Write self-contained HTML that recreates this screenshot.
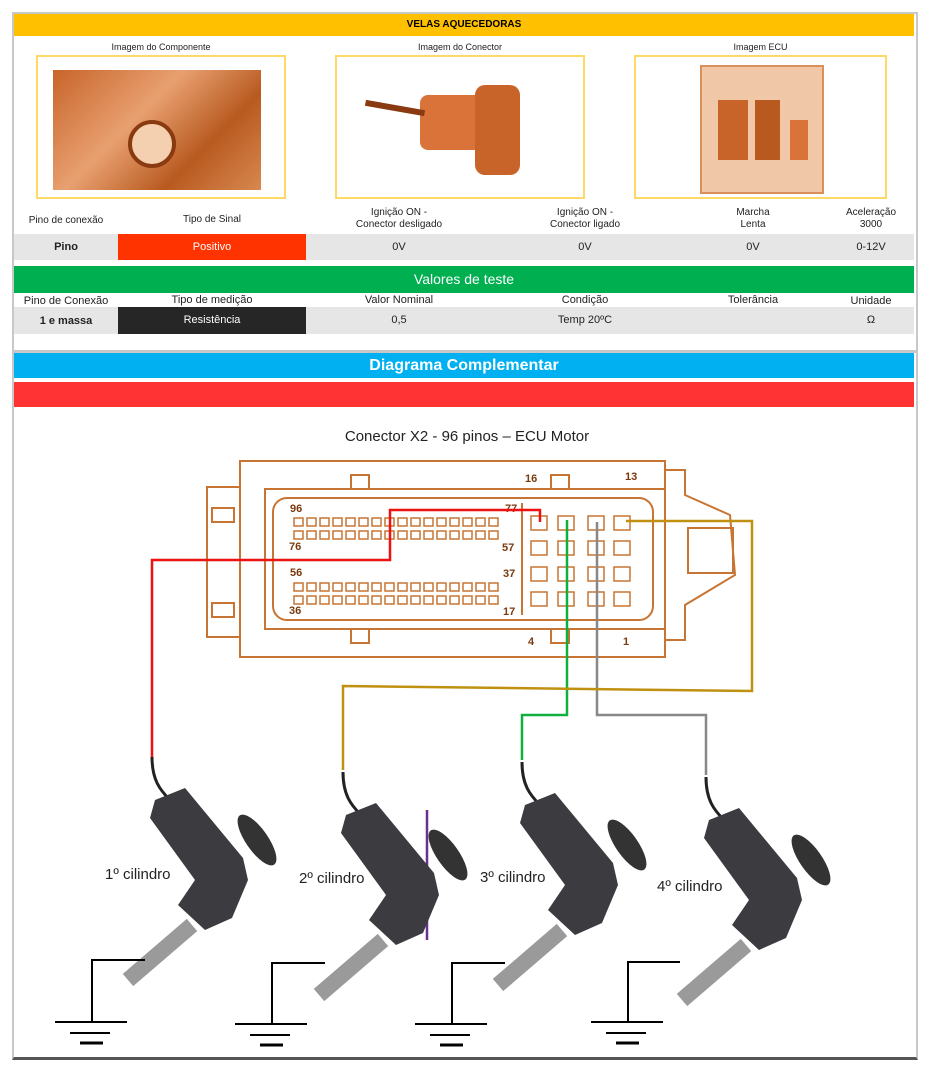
<!DOCTYPE html>
<html><head><meta charset="utf-8"><style>
body{margin:0;width:925px;height:1069px;background:#fff;position:relative;font-family:"Liberation Sans",sans-serif;overflow:hidden}
.a{position:absolute}
.c{position:absolute;text-align:center;font-size:10px;color:#222}
</style></head><body>
<div class="a" style="left:12px;top:12px;width:902px;height:336px;border:2px solid #c8c8c8"></div>
<div class="a" style="left:14px;top:14px;width:900px;height:22px;background:#FFC000;text-align:center;font-size:10px;font-weight:bold;line-height:22px">VELAS AQUECEDORAS</div>
<div class="c" style="left:36px;top:42px;width:250px;font-size:9px">Imagem do Componente</div>
<div class="c" style="left:335px;top:42px;width:250px;font-size:9px">Imagem do Conector</div>
<div class="c" style="left:634px;top:42px;width:253px;font-size:9px">Imagem ECU</div>
<div class="a" style="left:36px;top:55px;width:246px;height:140px;border:2px solid #FFD966"></div>
<div class="a" style="left:335px;top:55px;width:246px;height:140px;border:2px solid #FFD966"></div>
<div class="a" style="left:634px;top:55px;width:249px;height:140px;border:2px solid #FFD966"></div>
<div class="a" style="left:53px;top:70px;width:208px;height:120px;background:linear-gradient(135deg,#c8642a,#e8a070 40%,#b85a20 70%,#d88850)"></div>
<div class="a" style="left:128px;top:120px;width:40px;height:40px;border-radius:50%;background:#f5d0b0;border:4px solid #8a3a10"></div>
<div class="a" style="left:420px;top:95px;width:85px;height:55px;background:#d9733a;border-radius:8px"></div>
<div class="a" style="left:475px;top:85px;width:45px;height:90px;background:#c8642a;border-radius:10px"></div>
<div class="a" style="left:365px;top:105px;width:60px;height:6px;background:#8a3a10;transform:rotate(10deg)"></div>
<div class="a" style="left:700px;top:65px;width:120px;height:125px;background:#f0c8a8;border:2px solid #d9905a"></div>
<div class="a" style="left:718px;top:100px;width:30px;height:60px;background:#c8642a"></div>
<div class="a" style="left:755px;top:100px;width:25px;height:60px;background:#b85a20"></div>
<div class="a" style="left:790px;top:120px;width:18px;height:40px;background:#d9733a"></div>

<div class="c" style="left:14px;top:215px;width:104px">Pino de conexão</div>
<div class="c" style="left:118px;top:214px;width:188px">Tipo de Sinal</div>
<div class="c" style="left:306px;top:207px;width:186px;line-height:12px">Ignição ON -<br>Conector desligado</div>
<div class="c" style="left:492px;top:207px;width:186px;line-height:12px">Ignição ON -<br>Conector ligado</div>
<div class="c" style="left:678px;top:207px;width:150px;line-height:12px">Marcha<br>Lenta</div>
<div class="c" style="left:828px;top:207px;width:86px;line-height:12px">Aceleração<br>3000</div>
<div class="a" style="left:14px;top:234px;width:900px;height:26px;background:#e6e6e6"></div>
<div class="a" style="left:118px;top:234px;width:188px;height:26px;background:#FF3300"></div>
<div class="c" style="left:14px;top:241px;width:104px;font-size:11px;font-weight:bold">Pino</div>
<div class="c" style="left:118px;top:241px;width:188px;font-size:11px;color:#fff">Positivo</div>
<div class="c" style="left:306px;top:241px;width:186px;font-size:11px">0V</div>
<div class="c" style="left:492px;top:241px;width:186px;font-size:11px">0V</div>
<div class="c" style="left:678px;top:241px;width:150px;font-size:11px">0V</div>
<div class="c" style="left:828px;top:241px;width:86px;font-size:11px">0-12V</div>
<div class="a" style="left:14px;top:266px;width:900px;height:27px;background:#00B050;color:#fff;text-align:center;font-size:14px;line-height:27px">Valores de teste</div>
<div class="c" style="left:14px;top:295px;width:104px;font-size:11px">Pino de Conexão</div>
<div class="c" style="left:118px;top:294px;width:188px;font-size:11px">Tipo de medição</div>
<div class="c" style="left:306px;top:294px;width:186px;font-size:11px">Valor Nominal</div>
<div class="c" style="left:492px;top:294px;width:186px;font-size:11px">Condição</div>
<div class="c" style="left:678px;top:294px;width:150px;font-size:11px">Tolerância</div>
<div class="c" style="left:828px;top:295px;width:86px;font-size:11px">Unidade</div>
<div class="a" style="left:14px;top:307px;width:900px;height:27px;background:#e6e6e6"></div>
<div class="a" style="left:118px;top:307px;width:188px;height:27px;background:#262626"></div>
<div class="c" style="left:14px;top:315px;width:104px;font-size:11px;font-weight:bold">1 e massa</div>
<div class="c" style="left:118px;top:314px;width:188px;font-size:11px;color:#fff">Resistência</div>
<div class="c" style="left:306px;top:314px;width:186px;font-size:11px">0,5</div>
<div class="c" style="left:492px;top:314px;width:186px;font-size:11px">Temp 20ºC</div>
<div class="c" style="left:828px;top:314px;width:86px;font-size:11px">Ω</div>

<div class="a" style="left:12px;top:351px;width:902px;height:704px;border:2px solid #c8c8c8;border-bottom:3px solid #555"></div>
<div class="a" style="left:14px;top:353px;width:900px;height:25px;background:#00B0F0;color:#fff;text-align:center;font-size:16px;font-weight:bold;line-height:25px">Diagrama Complementar</div>
<div class="a" style="left:14px;top:382px;width:900px;height:25px;background:#FF3333"></div>

<svg class="a" style="left:0;top:0" width="925" height="1069">
<text x="467" y="441" text-anchor="middle" font-family="Liberation Sans,sans-serif" font-size="15" fill="#222">Conector X2 - 96 pinos – ECU Motor</text>
<g fill="none" stroke="#c87533" stroke-width="2">
<rect x="240" y="461" width="425" height="196"/>
<rect x="265" y="489" width="400" height="140"/>
<rect x="273" y="498" width="380" height="122" rx="14"/>
<rect x="207" y="487" width="33" height="150"/>
<rect x="212" y="508" width="22" height="14"/><rect x="212" y="603" width="22" height="14"/>
<path d="M665 470 L685 470 L685 495 L730 515 L735 575 L685 605 L685 640 L665 640"/>
<rect x="688" y="528" width="45" height="45"/>
<rect x="351" y="475" width="18" height="14"/><rect x="551" y="475" width="18" height="14"/>
<rect x="351" y="629" width="18" height="14"/><rect x="551" y="629" width="18" height="14"/>
<path d="M522 503 L522 615"/>
</g>
<g font-family="Liberation Sans,sans-serif" font-size="11" font-weight="bold" fill="#7a3a10">
<text x="290" y="512">96</text><text x="505" y="512">77</text><text x="289" y="550">76</text><text x="502" y="551">57</text>
<text x="290" y="576">56</text><text x="503" y="577">37</text><text x="289" y="614">36</text><text x="503" y="615">17</text>
<text x="525" y="482">16</text><text x="625" y="480">13</text><text x="528" y="645">4</text><text x="623" y="645">1</text>
</g>
<g fill="none" stroke="#c87533" stroke-width="1.5">
<path d="M294 518h9v8h-9zM307 518h9v8h-9zM320 518h9v8h-9zM333 518h9v8h-9zM346 518h9v8h-9zM359 518h9v8h-9zM372 518h9v8h-9zM385 518h9v8h-9zM398 518h9v8h-9zM411 518h9v8h-9zM424 518h9v8h-9zM437 518h9v8h-9zM450 518h9v8h-9zM463 518h9v8h-9zM476 518h9v8h-9zM489 518h9v8h-9z"/>
<path d="M294 531h9v8h-9zM307 531h9v8h-9zM320 531h9v8h-9zM333 531h9v8h-9zM346 531h9v8h-9zM359 531h9v8h-9zM372 531h9v8h-9zM385 531h9v8h-9zM398 531h9v8h-9zM411 531h9v8h-9zM424 531h9v8h-9zM437 531h9v8h-9zM450 531h9v8h-9zM463 531h9v8h-9zM476 531h9v8h-9zM489 531h9v8h-9z"/>
<path d="M294 583h9v8h-9zM307 583h9v8h-9zM320 583h9v8h-9zM333 583h9v8h-9zM346 583h9v8h-9zM359 583h9v8h-9zM372 583h9v8h-9zM385 583h9v8h-9zM398 583h9v8h-9zM411 583h9v8h-9zM424 583h9v8h-9zM437 583h9v8h-9zM450 583h9v8h-9zM463 583h9v8h-9zM476 583h9v8h-9zM489 583h9v8h-9z"/>
<path d="M294 596h9v8h-9zM307 596h9v8h-9zM320 596h9v8h-9zM333 596h9v8h-9zM346 596h9v8h-9zM359 596h9v8h-9zM372 596h9v8h-9zM385 596h9v8h-9zM398 596h9v8h-9zM411 596h9v8h-9zM424 596h9v8h-9zM437 596h9v8h-9zM450 596h9v8h-9zM463 596h9v8h-9zM476 596h9v8h-9zM489 596h9v8h-9z"/>
<path d="M531 516h16v14h-16zM558 516h16v14h-16zM588 516h16v14h-16zM614 516h16v14h-16z"/>
<path d="M531 541h16v14h-16zM558 541h16v14h-16zM588 541h16v14h-16zM614 541h16v14h-16z"/>
<path d="M531 567h16v14h-16zM558 567h16v14h-16zM588 567h16v14h-16zM614 567h16v14h-16z"/>
<path d="M531 592h16v14h-16zM558 592h16v14h-16zM588 592h16v14h-16zM614 592h16v14h-16z"/>
</g>
<g fill="none" stroke-width="2.5">
<path d="M152 757 V560 H390 V510 H540 V522" stroke="#ee1111"/>
<path d="M567 520 V715 H522 V760" stroke="#10b040"/>
<path d="M597 522 V715 H706 V775" stroke="#888"/>
<path d="M626 521 H752 V691 L343 686 V770" stroke="#c09010"/>
</g>
<line x1="427" y1="810" x2="427" y2="940" stroke="#6a3090" stroke-width="2.5"/>
<defs>
<g id="s">
<path d="M152 757 C152 780 160 790 170 800" fill="none" stroke="#222" stroke-width="3"/>
<polygon points="155,800 185,788 243,858 248,880 232,918 205,930 178,905 195,880 150,818" fill="#3c3c40"/>
<ellipse cx="257" cy="840" rx="11" ry="30" transform="rotate(-35 257 840)" fill="#333"/>
<line x1="192" y1="925" x2="128" y2="980" stroke="#9a9a9a" stroke-width="16"/>
</g>
<g id="g" fill="none" stroke="#000" stroke-width="2"><path d="M55 1022H127M70 1033H110"/><path d="M80 1043H103" stroke-width="3"/></g>
</defs>
<use href="#s"/>
<use href="#s" transform="translate(191 15)"/>
<use href="#s" transform="translate(370 5)"/>
<use href="#s" transform="translate(554 20)"/>
<g fill="none" stroke="#000" stroke-width="2">
<path d="M145 960 H92 V1022"/><path d="M325 963 H272 V1024"/><path d="M505 963 H452 V1024"/><path d="M680 962 H628 V1022"/>
</g>
<use href="#g"/>
<use href="#g" transform="translate(180 2)"/>
<use href="#g" transform="translate(360 2)"/>
<use href="#g" transform="translate(536 0)"/>
<g font-family="Liberation Sans,sans-serif" font-size="15" fill="#222">
<text x="105" y="879">1º cilindro</text><text x="299" y="883">2º cilindro</text>
<text x="480" y="882">3º cilindro</text><text x="657" y="891">4º cilindro</text>
</g>
</svg>
</body></html>
